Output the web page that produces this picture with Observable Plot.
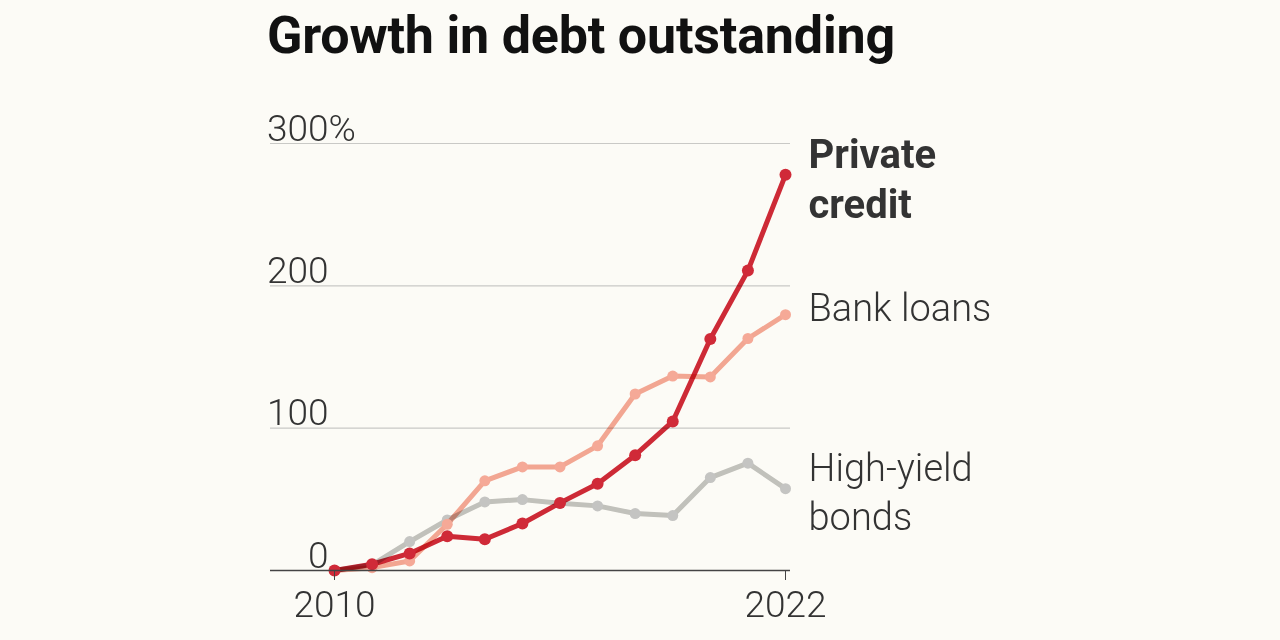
<!DOCTYPE html>
<html>
<head>
<meta charset="utf-8">
<script src="https://cdn.jsdelivr.net/npm/d3@7"></script>
<script src="https://cdn.jsdelivr.net/npm/@observablehq/plot@0.6"></script>
<style>
  html, body { margin: 0; padding: 0; background: #fcfbf6; }
  #wrap { width: 1280px; height: 640px; position: relative; overflow: hidden; background: #fcfbf6; }
  #title { height: 80px; line-height: 72px; padding-left: 267px; font-family: Roboto, sans-serif; font-weight: 700; font-size: 52px; color: #111; letter-spacing: -0.2px; white-space: nowrap; }
  svg { display: block; }
</style>
</head>
<body>
<div id="wrap">
  <div id="title">Growth in debt outstanding</div>
  <div id="chart"></div>
</div>
<script>
const years = [2010, 2011, 2012, 2013, 2014, 2015, 2016, 2017, 2018, 2019, 2020, 2021, 2022];
const privateCredit = [0, 4.4, 12, 24, 22, 33, 47.5, 61, 81, 104.7, 162.6, 210.7, 278];
const bankLoans = [0, 2, 6.7, 32.5, 63, 72.8, 72.8, 87.6, 124, 136.6, 136, 163, 179.7];
const highYield = [0, 3.9, 20.3, 35.5, 48.2, 49.8, 47.3, 45.4, 40, 38.6, 65.3, 75.4, 57.5];
const yTicks = [0, 100, 200, 300];
const xTicks = [2010, 2022];
const seriesNames = ["Private credit", "Bank loans", "High-yield bonds"];
const seriesLabels = ["Private\ncredit", "Bank loans", "High-yield\nbonds"];
const colors = ["#d02a38", "#f5a997", "#c4c4c2"];

const series = [privateCredit, bankLoans, highYield];
const rows = (i) => years.map((yr, j) => ({year: yr, value: series[i][j], name: seriesNames[i]}));
const pc = rows(0), bl = rows(1), hy = rows(2);
const last = (r, i) => [{...r[r.length - 1], label: seriesLabels[i]}];

const chart = Plot.plot({
  width: 1280,
  height: 560,
  marginTop: 63,
  marginBottom: 70,
  marginLeft: 270,
  marginRight: 490,
  x: {domain: [2010, 2022], insetLeft: 64, insetRight: 5},
  y: {domain: [0, 300]},
  style: {fontFamily: "Roboto, sans-serif", fontWeight: 300, fontSize: "37px", color: "#333", background: "transparent", overflow: "visible"},
  marks: [
    Plot.ruleY(yTicks.filter(d => d > 0), {stroke: "#c9c9c6", strokeWidth: 1.2}),
    Plot.axisY({ticks: yTicks, tickSize: 0, tickPadding: 0, textAnchor: "end", dx: 58, lineAnchor: "bottom", dy: -3, tickFormat: d => String(d), fill: "#333", label: null}),
    Plot.text([300], {y: d => d, text: () => "%", frameAnchor: "left", dx: 58, textAnchor: "start", lineAnchor: "bottom", dy: -3, fill: "#333"}),
    Plot.lineY(hy, {x: "year", y: "value", stroke: colors[2], strokeWidth: 5, mixBlendMode: "multiply"}),
    Plot.dot(hy, {x: "year", y: "value", fill: colors[2], r: 5.5}),
    Plot.lineY(bl, {x: "year", y: "value", stroke: colors[1], strokeWidth: 5, mixBlendMode: "multiply"}),
    Plot.dot(bl, {x: "year", y: "value", fill: colors[1], r: 5.5}),
    Plot.lineY(pc, {x: "year", y: "value", stroke: colors[0], strokeWidth: 5, mixBlendMode: "multiply"}),
    Plot.dot(pc, {x: "year", y: "value", fill: colors[0], r: 6}),
    Plot.ruleY([0], {stroke: "#444", strokeWidth: 1.5}),
    Plot.axisX({ticks: xTicks, tickSize: 10, tickPadding: 10, tickFormat: d => String(d), stroke: "#444", fill: "#333", label: null}),
    Plot.text(last(pc, 0), {x: "year", y: "value", text: "label", dx: 23, dy: 2, textAnchor: "start", lineAnchor: "middle", lineHeight: 1.27, fontSize: 40, fontWeight: 700, fill: "#333"}),
    Plot.text(last(bl, 1), {x: "year", y: "value", text: "label", dx: 23, dy: -10, textAnchor: "start", lineAnchor: "middle", lineHeight: 1.3, fontSize: 38, fontWeight: 300, fill: "#333"}),
    Plot.text(last(hy, 2), {x: "year", y: "value", text: "label", dx: 23, dy: 1, textAnchor: "start", lineAnchor: "middle", lineHeight: 1.3, fontSize: 38, fontWeight: 300, fill: "#333"})
  ]
});
document.getElementById("chart").appendChild(chart);
</script>
</body>
</html>
